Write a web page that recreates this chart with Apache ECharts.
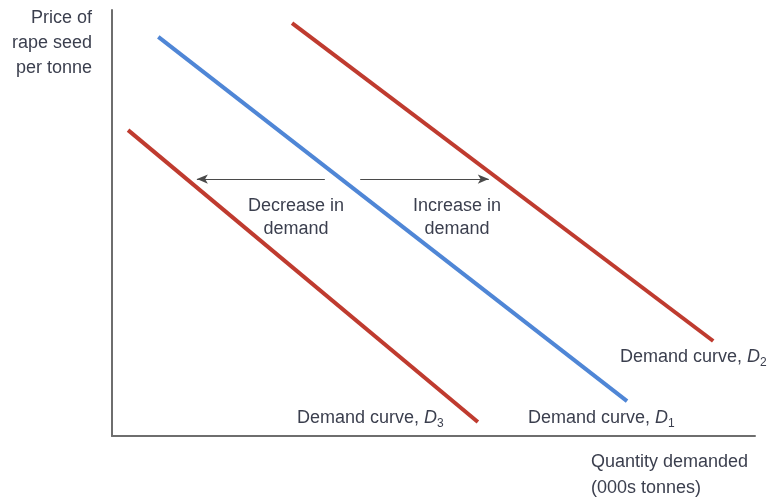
<!DOCTYPE html>
<html><head><meta charset="utf-8">
<script src="https://cdn.jsdelivr.net/npm/echarts@6/dist/echarts.min.js"></script>
<style>html,body{margin:0;padding:0;background:#fff}#c{width:774px;height:499px}</style>
</head><body><div id="c"></div>
<script>
// Demand curves: [quantity, price] endpoints on 0-100 schematic scales
const d1 = [[7.2, 93.7], [80.1, 8.2]];
const d2 = [[28.0, 96.9], [93.5, 22.3]];
const d3 = [[2.5, 71.8], [56.9, 3.3]];
// Shift arrows: [from, to]
const decreaseArrow = [[33.1, 60.3], [13.2, 60.3]];
const increaseArrow = [[38.6, 60.3], [58.6, 60.3]];

const FONT = '"Liberation Sans", Arial, sans-serif';
const TXT = '#3b3f4e';
const RED = '#bf3b2f';
const BLUE = '#4f86d6';
const FS = 18;

const chart = echarts.init(document.getElementById('c'));
const sub = {
  a: {fontFamily: FONT, fontSize: FS, color: TXT},
  i: {fontFamily: FONT, fontSize: FS, color: TXT, fontStyle: 'italic'},
  s: {fontFamily: FONT, fontSize: 12, color: TXT, padding: [12, 0, 0, 0]}
};
function curveLabel(n, x, y) {
  return {type: 'text', x: x, y: y,
    style: {text: '{a|Demand curve, }{i|D}{s|' + n + '}', rich: sub, fill: TXT, align: 'left', verticalAlign: 'top'}};
}
function plain(text, x, y, align, lh) {
  return {type: 'text', x: x, y: y, style: {text: text, align: align, verticalAlign: 'top',
    font: FS + 'px ' + FONT, fill: TXT, lineHeight: lh}};
}
chart.setOption({
  animation: false,
  grid: {left: 112, right: 19, top: 10, bottom: 63},
  xAxis: {type: 'value', min: 0, max: 100, axisLine: {show: true, lineStyle: {color: '#6e6e6e', width: 2}},
    axisTick: {show: false}, axisLabel: {show: false}, splitLine: {show: false}},
  yAxis: {type: 'value', min: 0, max: 100, axisLine: {show: true, lineStyle: {color: '#6e6e6e', width: 2}},
    axisTick: {show: false}, axisLabel: {show: false}, splitLine: {show: false}},
  series: [
    {type: 'line', data: d1, symbol: 'none', lineStyle: {color: BLUE, width: 4}},
    {type: 'line', data: d2, symbol: 'none', lineStyle: {color: RED, width: 4}},
    {type: 'line', data: d3, symbol: 'none', lineStyle: {color: RED, width: 4}},
    {type: 'line', data: [], markLine: {silent: true, symbol: ['none', 'arrow'], symbolSize: [7, 11],
      label: {show: false}, lineStyle: {color: '#4a4a4a', width: 1.2, type: 'solid'},
      data: [
        [{coord: decreaseArrow[0]}, {coord: decreaseArrow[1]}],
        [{coord: increaseArrow[0]}, {coord: increaseArrow[1]}]
      ]}}
  ],
  graphic: [
    plain('Price of\nrape seed\nper tonne', 92, 6, 'right', 25),
    plain('Quantity demanded\n(000s tonnes)', 591, 449, 'left', 26),
    plain('Decrease in\ndemand', 296, 195, 'center', 23),
    plain('Increase in\ndemand', 457, 195, 'center', 23),
    curveLabel('2', 620, 345),
    curveLabel('1', 528, 406),
    curveLabel('3', 297, 406)
  ]
});
</script></body></html>
